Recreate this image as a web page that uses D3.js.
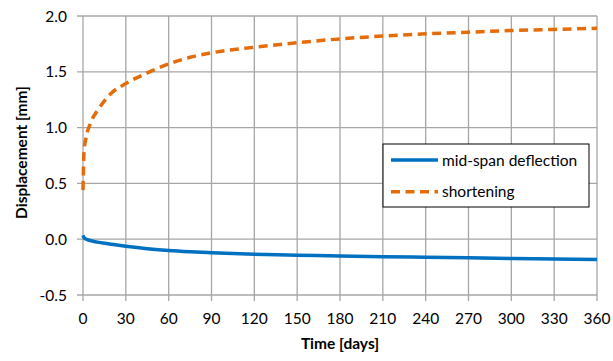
<!DOCTYPE html>
<html><head><meta charset="utf-8">
<script src="https://cdn.jsdelivr.net/npm/d3@7"></script>
<style>body{margin:0;background:#fff}svg{display:block}text{font-family:Lato,"Open Sans",sans-serif;fill:#000}</style>
</head><body>
<script>
const days = [0, 0.5, 1, 2, 3, 5, 7, 10, 15, 20, 30, 45, 60, 75, 90, 120, 150, 180, 210, 240, 270, 300, 330, 360];
const shortening = [0.44, 0.72, 0.82, 0.90, 0.96, 1.03, 1.09, 1.15, 1.24, 1.31, 1.395, 1.49, 1.57, 1.63, 1.67, 1.72, 1.76, 1.795, 1.82, 1.84, 1.855, 1.87, 1.88, 1.89];
const deflection = [0.035, 0.02, 0.01, 0.002, -0.004, -0.012, -0.018, -0.026, -0.037, -0.046, -0.063, -0.085, -0.102, -0.113, -0.121, -0.134, -0.143, -0.151, -0.157, -0.162, -0.167, -0.173, -0.177, -0.182];
const xTicks = [0, 30, 60, 90, 120, 150, 180, 210, 240, 270, 300, 330, 360];
const yTicks = [-0.5, 0.0, 0.5, 1.0, 1.5, 2.0];
const seriesNames = ["mid-span deflection", "shortening"];

const W = 613, H = 361;
const m = {l: 83, r: 16, t: 16, b: 66};
const svg = d3.select("body").append("svg").attr("width", W).attr("height", H);
const x = d3.scaleLinear().domain([0, 360]).range([m.l, W - m.r]);
const y = d3.scaleLinear().domain([-0.5, 2.0]).range([H - m.b, m.t]);
const grid = "#a6a6a6";

// gridlines
svg.append("g").selectAll("line").data(xTicks).join("line")
  .attr("x1", d => x(d)).attr("x2", d => x(d)).attr("y1", y(2.0)).attr("y2", y(-0.5) + 6)
  .attr("stroke", grid).attr("stroke-width", 1.3);
svg.append("g").selectAll("line").data(yTicks).join("line")
  .attr("x1", x(0) - 6).attr("x2", x(360)).attr("y1", d => y(d)).attr("y2", d => y(d))
  .attr("stroke", grid).attr("stroke-width", 1.3);

// tick labels
svg.append("g").selectAll("text").data(xTicks).join("text")
  .attr("x", d => x(d)).attr("y", y(-0.5) + 28.5).attr("text-anchor", "middle")
  .attr("font-size", 15.5).text(d => d);
svg.append("g").selectAll("text").data(yTicks).join("text")
  .attr("x", x(0) - 16).attr("y", d => y(d) + 5.5).attr("text-anchor", "end")
  .attr("font-size", 15.5).text(d => d.toFixed(1));

// titles
svg.append("text").attr("x", x(180)).attr("y", 349).attr("text-anchor", "middle")
  .attr("font-size", 15.5).attr("font-weight", "bold").text("Time [days]");
svg.append("text").attr("transform", `translate(27,152.5) rotate(-90)`).attr("text-anchor", "middle")
  .attr("font-size", 15.5).attr("font-weight", "bold").text("Displacement [mm]");

const line = d3.line().x((d, i) => x(days[i])).y(d => y(d)).curve(d3.curveMonotoneX);
svg.append("path").attr("d", line(deflection)).attr("fill", "none")
  .attr("stroke", "#0070c0").attr("stroke-width", 3.5);
svg.append("path").attr("d", line(shortening)).attr("fill", "none")
  .attr("stroke", "#e46c0a").attr("stroke-width", 3.5).attr("stroke-dasharray", "9,5.5");

// legend
const lg = svg.append("g").attr("transform", "translate(383,144)");
lg.append("rect").attr("width", 206).attr("height", 63).attr("fill", "#fff").attr("stroke", "#000").attr("stroke-width", 1);
const styles = [{c: "#0070c0", d: null}, {c: "#e46c0a", d: "9,5.5"}];
seriesNames.forEach((n, i) => {
  const yy = 16 + i * 31.7;
  lg.append("line").attr("x1", 8).attr("x2", 55).attr("y1", yy).attr("y2", yy)
    .attr("stroke", styles[i].c).attr("stroke-width", 3.5).attr("stroke-dasharray", styles[i].d);
  lg.append("text").attr("x", 59).attr("y", yy + 5.5).attr("font-size", 15.5).text(n);
});
</script>
</body></html>
